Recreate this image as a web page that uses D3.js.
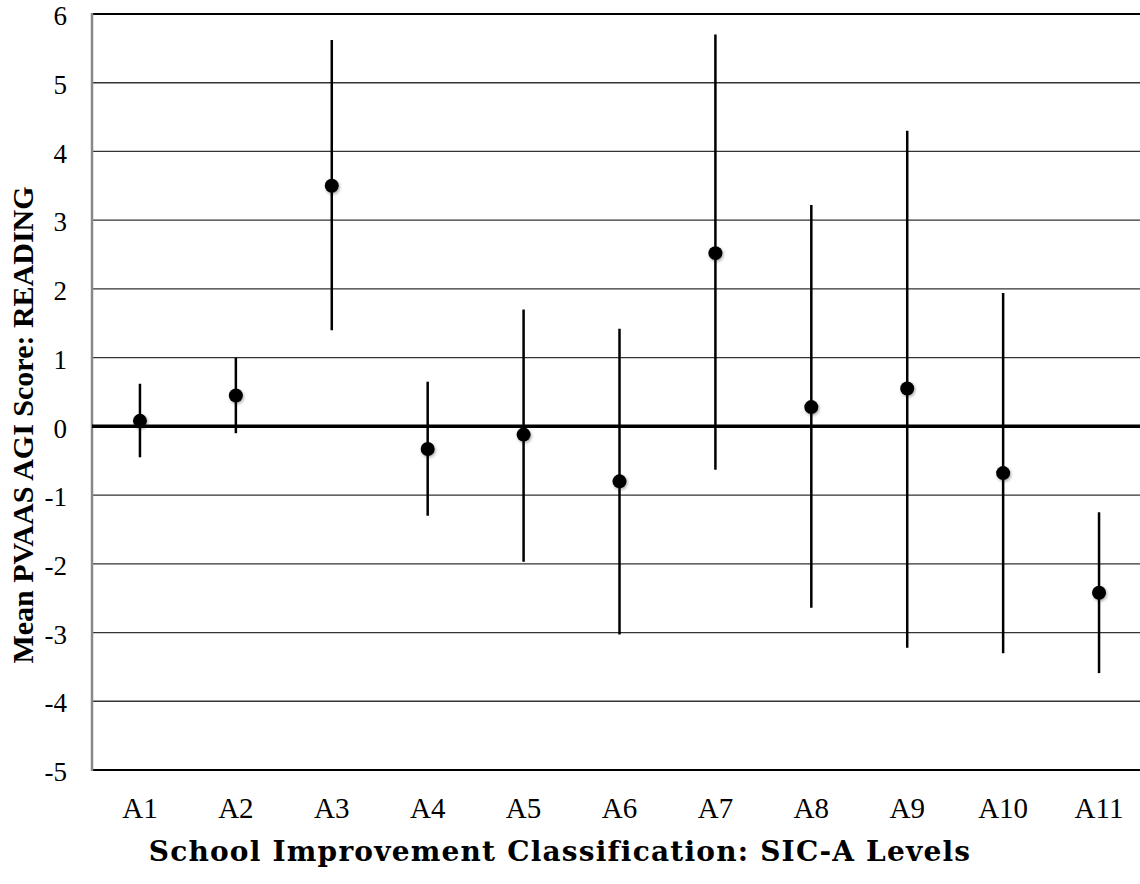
<!DOCTYPE html>
<html>
<head>
<meta charset="utf-8">
<script src="https://cdn.jsdelivr.net/npm/d3@7"></script>
<style>
  body { margin: 0; background: #fff; }
  svg { display: block; }
</style>
</head>
<body>
<svg width="1140" height="884"></svg>
<script>
// values
var levels = ["A1", "A2", "A3", "A4", "A5", "A6", "A7", "A8", "A9", "A10", "A11"];
var means = [0.08, 0.45, 3.5, -0.33, -0.12, -0.8, 2.52, 0.28, 0.55, -0.68, -2.42];
var highs = [0.62, 1.0, 5.62, 0.65, 1.7, 1.42, 5.7, 3.22, 4.3, 1.94, -1.25];
var lows = [-0.45, -0.1, 1.4, -1.3, -1.97, -3.03, -0.63, -2.64, -3.22, -3.3, -3.59];
var yTicks = [6, 5, 4, 3, 2, 1, 0, -1, -2, -3, -4, -5];

var data = levels.map(function(l, i) {
  return { level: l, mean: means[i], high: highs[i], low: lows[i] };
});

var svg = d3.select("svg");
var plotLeft = 92, plotRight = 1147, plotTop = 14, plotBottom = 770;

var x = d3.scaleBand().domain(levels).range([plotLeft, plotRight]);
var y = d3.scaleLinear().domain([-5, 6]).range([plotBottom, plotTop]);

// soft shadow under the dots
var defs = svg.append("defs");
var f = defs.append("filter").attr("id", "shadow")
  .attr("x", "-50%").attr("y", "-50%").attr("width", "200%").attr("height", "200%");
f.append("feDropShadow").attr("dx", 1).attr("dy", 1.5).attr("stdDeviation", 1.5)
  .attr("flood-color", "#000").attr("flood-opacity", 0.35);

// gridlines
svg.append("g").selectAll("line")
  .data(yTicks.filter(function(d) { return d != 0 && d != 6 && d != -5; }))
  .enter().append("line")
  .attr("x1", plotLeft).attr("x2", plotRight)
  .attr("y1", function(d) { return y(d); }).attr("y2", function(d) { return y(d); })
  .attr("stroke", "#333").attr("stroke-width", 1.3);

// top and bottom frame
svg.append("line").attr("x1", plotLeft).attr("x2", plotRight)
  .attr("y1", y(6)).attr("y2", y(6)).attr("stroke", "#000").attr("stroke-width", 2.2);
svg.append("line").attr("x1", plotLeft).attr("x2", plotRight)
  .attr("y1", y(-5)).attr("y2", y(-5)).attr("stroke", "#000").attr("stroke-width", 2);

// left axis (gray)
svg.append("line").attr("x1", plotLeft).attr("x2", plotLeft)
  .attr("y1", y(6) - 1).attr("y2", y(-5) + 1).attr("stroke", "#888").attr("stroke-width", 2.5);

// zero line
svg.append("line").attr("x1", plotLeft).attr("x2", plotRight)
  .attr("y1", y(0)).attr("y2", y(0)).attr("stroke", "#000").attr("stroke-width", 3.5);

// y tick labels, plain hyphen for negatives like the original
var yAxis = d3.axisLeft(y).tickValues(yTicks).tickSize(0).tickPadding(25)
  .tickFormat(function(d) { return String(d); });
var ya = svg.append("g").attr("transform", "translate(" + plotLeft + ",2)").call(yAxis);
ya.select(".domain").remove();
ya.selectAll("text").attr("font-family", "'Liberation Serif', serif").attr("font-size", 27).attr("fill", "#000");

// x tick labels
var xAxis = d3.axisBottom(x).tickSize(0).tickPadding(27);
var xa = svg.append("g").attr("transform", "translate(0," + plotBottom + ")").call(xAxis);
xa.select(".domain").remove();
xa.selectAll("text").attr("font-family", "'Liberation Serif', serif").attr("font-size", 29).attr("fill", "#000");

// error bars
var pts = svg.append("g").selectAll("g").data(data).enter().append("g");
pts.append("line")
  .attr("x1", function(d) { return x(d.level) + x.bandwidth() / 2; })
  .attr("x2", function(d) { return x(d.level) + x.bandwidth() / 2; })
  .attr("y1", function(d) { return y(d.high); })
  .attr("y2", function(d) { return y(d.low); })
  .attr("stroke", "#000").attr("stroke-width", 2.5);
pts.append("circle")
  .attr("cx", function(d) { return x(d.level) + x.bandwidth() / 2; })
  .attr("cy", function(d) { return y(d.mean); })
  .attr("r", 7).attr("fill", "#000").attr("filter", "url(#shadow)");

// axis titles
svg.append("text")
  .attr("transform", "translate(33," + 425 + ") rotate(-90)")
  .attr("text-anchor", "middle")
  .attr("font-family", "'Liberation Serif', serif").attr("font-weight", "bold").attr("font-size", 30)
  .text("Mean PVAAS AGI Score: READING");

svg.append("text")
  .attr("x", 560).attr("y", 861)
  .attr("text-anchor", "middle")
  .attr("font-family", "'DejaVu Serif', serif").attr("font-weight", "bold").attr("font-size", 28)
  .attr("letter-spacing", 1.2)
  .text("School Improvement Classification: SIC-A Levels");
</script>
</body>
</html>
